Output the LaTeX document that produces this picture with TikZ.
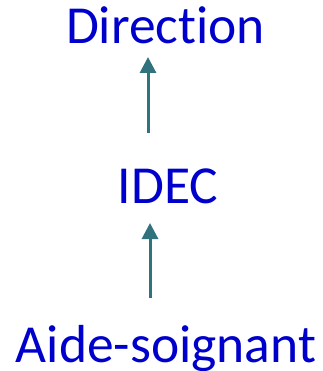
\documentclass[tikz,border=0pt]{standalone}
\usepackage{fontspec}
\setmainfont[Ligatures={NoCommon}]{Carlito}
\usetikzlibrary{arrows.meta}
\definecolor{txtblue}{HTML}{0000CC}
\definecolor{arrteal}{HTML}{31737D}
\begin{document}
\begin{tikzpicture}[x=1pt,y=-1pt,
  lbl/.style={inner sep=0pt, anchor=base, text=txtblue, font=\fontsize{53.5}{53.5}\selectfont},
  arr/.style={draw=arrteal, line width=3pt, -{Triangle[length=16pt,width=16pt]}}]
\useasboundingbox (0,0) rectangle (322,371);
\node[lbl] (dir) at (165.5,43.5) {Direction};
\node[lbl] (idec) at (168,203.5) {IDEC};
\node[lbl] (aide) at (166,362.5) {Aide-soignant};
\coordinate (a1s) at (148,133);
\coordinate (a1e) at (148,57);
\coordinate (a2s) at (150,298);
\coordinate (a2e) at (150,223);
\draw[arr] (a1s) -- (a1e);
\draw[arr] (a2s) -- (a2e);
\end{tikzpicture}
\end{document}
